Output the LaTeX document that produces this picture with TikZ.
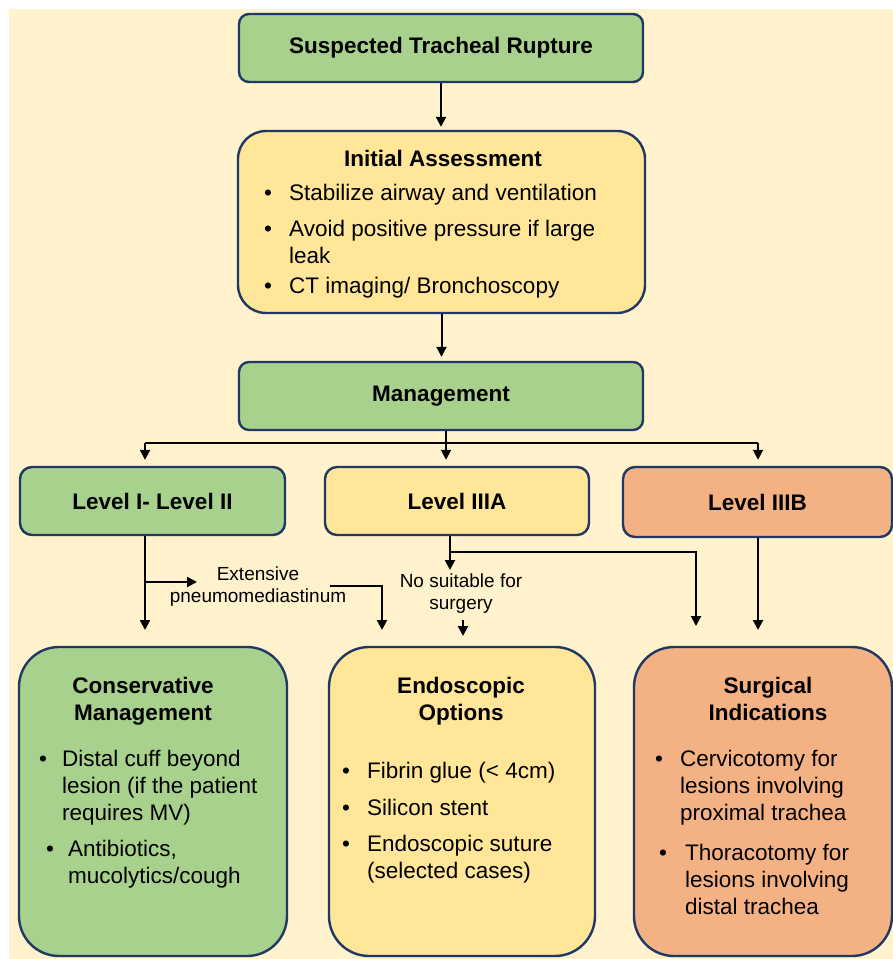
\documentclass[tikz,border=0pt]{standalone}
\usepackage{fontspec}
\setmainfont{Liberation Sans}
\usepackage{array}
\definecolor{bgcream}{HTML}{FFF2CC}
\definecolor{boxgreen}{HTML}{A9D18E}
\definecolor{boxyellow}{HTML}{FFE699}
\definecolor{boxsalmon}{HTML}{F4B183}
\definecolor{boxline}{HTML}{203864}
\usetikzlibrary{arrows.meta,positioning,calc}
\newcommand{\bodyfont}{\fontsize{22.5}{27}\selectfont}
\newcommand{\notefont}{\fontsize{19}{22}\selectfont}
\tikzset{
  blk/.style       = {draw=boxline,line width=2.4pt,rounded corners=10pt,
                      align=center,font=\bodyfont\bfseries,inner sep=0pt},
  greenblk/.style  = {blk,fill=boxgreen},
  yellowblk/.style = {blk,fill=boxyellow},
  salmonblk/.style = {blk,fill=boxsalmon},
  head/.style      = {font=\bodyfont\bfseries,inner sep=0pt,anchor=base},
  items/.style     = {font=\bodyfont,inner sep=0pt,anchor=base west},
  note/.style      = {font=\notefont,align=center,inner sep=0pt},
  flow/.style      = {-{Triangle[length=10pt,width=10pt]},line width=2pt},
}

\begin{document}
\begin{tikzpicture}[x=1pt,y=-1pt]
  % page and cream backdrop
  \fill[white] (0,0) rectangle (893,959);
  \fill[bgcream] (9,9) rectangle (893,959);
  \useasboundingbox (0,0) rectangle (893,959);

  % top chain
  \node[greenblk,minimum width=404pt,minimum height=68pt] (susp) at (441,48)
        {Suspected Tracheal Rupture};
  \node[yellowblk,rounded corners=28pt,minimum width=407pt,minimum height=182pt]
        (init) at (441.5,222) {};
  \node[head] (inithead) at (443,166) {Initial Assessment};
  \node[items] (initlist) at (264,200) {%
    \begin{tabular}[t]{@{}p{25pt}@{}l@{}}
      \textbullet & Stabilize airway and ventilation\\[9pt]
      \textbullet & Avoid positive pressure if large\\
                  & leak\\[3pt]
      \textbullet & CT imaging/ Bronchoscopy
    \end{tabular}};
  \node[greenblk,minimum width=404pt,minimum height=68pt] (mgmt) at (441,396)
        {Management};

  % levels
  \node[greenblk,rounded corners=12pt,minimum width=265pt,minimum height=68pt]
        (lvlone) at (152.5,501) {Level I- Level II};
  \node[yellowblk,rounded corners=12pt,minimum width=264pt,minimum height=68pt]
        (lvlthreea) at (457,501) {Level IIIA};
  \node[salmonblk,rounded corners=12pt,minimum width=269pt,minimum height=70pt]
        (lvlthreeb) at (757.5,502) {Level IIIB};

  % bottom boxes
  \node[greenblk,rounded corners=40pt,minimum width=268pt,minimum height=309pt]
        (cons) at (153,801.5) {};
  \node[yellowblk,rounded corners=40pt,minimum width=266pt,minimum height=309pt]
        (endo) at (462,801.5) {};
  \node[salmonblk,rounded corners=40pt,minimum width=258pt,minimum height=309pt]
        (surg) at (763,801.5) {};

  \node[head] (conshead) at (143,693)
        {\begin{tabular}[t]{@{}c@{}}Conservative\\ Management\end{tabular}};
  \node[head] (endohead) at (461,693)
        {\begin{tabular}[t]{@{}c@{}}Endoscopic\\ Options\end{tabular}};
  \node[head] (surghead) at (768,693)
        {\begin{tabular}[t]{@{}c@{}}Surgical\\ Indications\end{tabular}};

  \node[items] (conslist) at (39,766) {%
    \begin{tabular}[t]{@{}p{23pt}@{}l@{}}
      \textbullet & Distal cuff beyond\\
                  & lesion (if the patient\\
                  & requires MV)\\[9pt]
      \hspace*{7pt}\textbullet & \hspace*{6pt}Antibiotics,\\
                  & \hspace*{6pt}mucolytics/cough
    \end{tabular}};
  \node[items] (endolist) at (342,778) {%
    \begin{tabular}[t]{@{}p{25pt}@{}l@{}}
      \textbullet & Fibrin glue (< 4cm)\\[10pt]
      \textbullet & Silicon stent\\[9pt]
      \textbullet & Endoscopic suture\\
                  & (selected cases)
    \end{tabular}};
  \node[items] (surglist) at (655,766) {%
    \begin{tabular}[t]{@{}p{25pt}@{}l@{}}
      \textbullet & Cervicotomy for\\
                  & lesions involving\\
                  & proximal trachea\\[13pt]
      \hspace*{4pt}\textbullet & \hspace*{5pt}Thoracotomy for\\
                  & \hspace*{5pt}lesions involving\\
                  & \hspace*{5pt}distal trachea
    \end{tabular}};

  % side notes
  \node[note] (extlbl) at (258,587) {Extensive\\ pneumomediastinum};
  \node[note] (nosurg) at (461,594) {No suitable for\\ surgery};

  % joints and free ends
  \coordinate (split)   at (446,443);
  \coordinate (splitl)  at (145,443);
  \coordinate (splitr)  at (758,443);
  \coordinate (consin)  at (145,630);
  \coordinate (extfork) at (145,582);
  \coordinate (extend)  at (197,582);
  \coordinate (extout)  at (330,586);
  \coordinate (endoin)  at (382,630);
  \coordinate (afork)   at (450,552);
  \coordinate (aend)    at (450,570);
  \coordinate (surgina) at (696,626);
  \coordinate (nstop)   at (463,620);
  \coordinate (nsend)   at (463,636);
  \coordinate (surgin)  at (758,630);

  % connectors
  \draw[flow,shorten >=3pt] (susp.south) -- (susp.south |- init.north);
  \draw[flow,shorten >=4pt] (init.south) -- (init.south |- mgmt.north);
  \draw[line width=2pt] (mgmt.south -| split) -- (split);
  \draw[line width=2pt] (splitl) -- (splitr);
  \draw[flow,shorten >=6pt] (splitl) -- (splitl |- lvlone.north);
  \draw[flow,shorten >=6pt] (split) -- (split |- lvlthreea.north);
  \draw[flow,shorten >=6pt] (splitr) -- (splitr |- lvlthreeb.north);

  \draw[flow] (lvlone.south -| consin) -- (consin);
  \draw[flow] (extfork) -- (extend);
  \draw[flow] (extout) -| (endoin);
  \draw[flow] (lvlthreea.south -| afork) -- (afork) -| (surgina);
  \draw[flow] (afork) -- (aend);
  \draw[flow] (nstop) -- (nsend);
  \draw[flow] (lvlthreeb.south -| surgin) -- (surgin);
\end{tikzpicture}
\end{document}
